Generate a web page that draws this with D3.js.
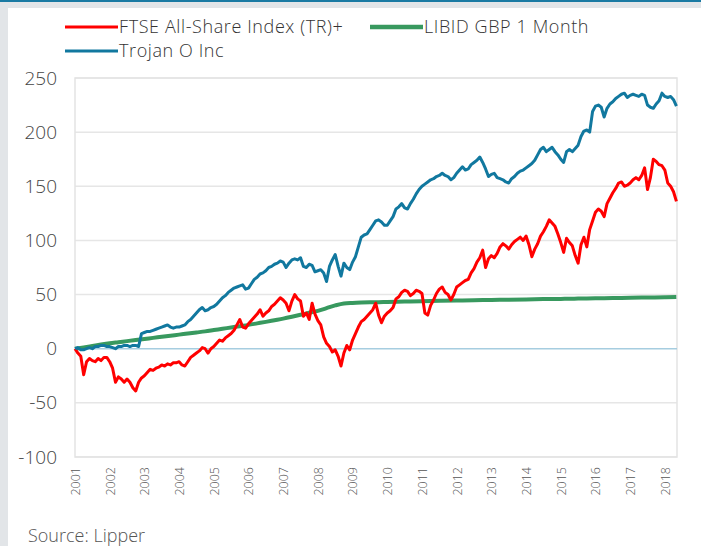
<!DOCTYPE html>
<html>
<head>
<meta charset="utf-8">
<script src="https://cdnjs.cloudflare.com/ajax/libs/d3/7.8.5/d3.min.js"></script>
<style>
    body { margin: 0; background: #e2e5e8; }
    svg { display: block; font-family: "Open Sans", Lato, sans-serif; font-weight: 300; }
</style>
</head>
<body>
<div id="container"></div>
<script>
// monthly values, first value is Jan 2001
var startYear = 2001;

var ftseValues = [
    0, -4, -7, -24, -12, -9, -11, -12, -9, -11, -8, -8,
    -12, -18, -31, -26, -28, -31, -28, -31, -36, -39, -31, -27,
    -25, -22, -19, -20, -18, -17, -15, -16, -14, -15, -13, -13,
    -12, -15, -16, -12, -8, -6, -4, -2, 1, 0, -4, 0,
    2, 5, 8, 7, 10, 12, 14, 17, 22, 27, 20, 19,
    23, 26, 29, 32, 36, 30, 33, 35, 39, 41, 44, 47,
    45, 42, 35, 44, 50, 46, 44, 30, 33, 27, 42, 32,
    26, 22, 11, 5, 2, -3, -1, -7, -16, -4, 3, -1,
    8, 14, 20, 25, 27, 30, 33, 36, 42, 31, 24, 30,
    33, 35, 38, 46, 48, 52, 54, 53, 49, 51, 54, 53,
    51, 33, 31, 40, 45, 51, 55, 57, 52, 50, 45, 50,
    57, 59, 61, 63, 64, 70, 74, 80, 84, 91, 75, 83,
    86, 84, 88, 94, 97, 95, 92, 96, 99, 101, 103, 100,
    104, 96, 85, 92, 97, 104, 108, 113, 119, 116, 113, 106,
    98, 89, 102, 98, 95, 86, 79, 96, 103, 94, 110, 118,
    126, 129, 127, 122, 134, 139, 144, 148, 153, 154, 150, 151,
    153, 156, 158, 156, 160, 167, 147, 158, 175, 173, 170, 169,
    165, 153, 150, 145, 136
];

var trojanValues = [
    0, 1, -1, -1, 0, 1, 0, 2, 2, 3, 3, 2,
    2, 1, 0, 2, 2, 3, 3, 2, 3, 3, 2, 14,
    15, 16, 16, 17, 18, 19, 20, 21, 22, 20, 19, 20,
    20, 21, 22, 25, 27, 30, 33, 36, 38, 35, 36, 38,
    39, 41, 44, 47, 49, 52, 54, 56, 57, 58, 59, 55,
    56, 60, 64, 66, 69, 70, 72, 75, 76, 78, 79, 81,
    80, 75, 79, 82, 83, 82, 84, 76, 75, 78, 77, 71,
    72, 73, 70, 62, 76, 82, 87, 76, 67, 79, 75, 73,
    80, 85, 94, 103, 105, 106, 110, 114, 118, 119, 117, 114,
    114, 118, 122, 129, 131, 134, 130, 129, 134, 138, 143, 147,
    150, 152, 154, 156, 157, 159, 160, 162, 160, 159, 156, 158,
    162, 165, 168, 165, 166, 170, 172, 174, 177, 172, 166, 159,
    161, 162, 158, 157, 156, 154, 153, 157, 159, 162, 164, 165,
    167, 169, 171, 174, 179, 184, 186, 182, 184, 186, 182, 179,
    175, 172, 182, 184, 182, 185, 188, 196, 201, 202, 200, 219,
    224, 225, 223, 214, 222, 226, 228, 231, 233, 235, 236, 232,
    234, 235, 234, 233, 235, 234, 225, 223, 222, 226, 229, 236,
    233, 232, 233, 230, 224
];

// [year, value] read every quarter
var libidPoints = [
    [2001, 0], [2001.25, 1.2], [2001.5, 2.5], [2001.75, 3.8],
    [2002, 5], [2002.25, 6], [2002.5, 7], [2002.75, 8],
    [2003, 9], [2003.25, 10], [2003.5, 11], [2003.75, 12],
    [2004, 13], [2004.25, 14], [2004.5, 15], [2004.75, 16],
    [2005, 17.2], [2005.25, 18.4], [2005.5, 19.6], [2005.75, 20.8],
    [2006, 22], [2006.25, 23.4], [2006.5, 24.8], [2006.75, 26.3],
    [2007, 27.8], [2007.25, 29.5], [2007.5, 31.3], [2007.75, 33.2],
    [2008, 35], [2008.25, 37.5], [2008.5, 40], [2008.75, 41.8],
    [2009, 42.3], [2009.25, 42.6], [2009.5, 42.8], [2009.75, 43],
    [2010, 43.2], [2010.5, 43.5], [2011, 43.8], [2011.5, 44.2],
    [2012, 44.5], [2012.5, 44.8], [2013, 45], [2013.5, 45.3],
    [2014, 45.5], [2014.5, 45.8], [2015, 46], [2015.5, 46.3],
    [2016, 46.5], [2016.5, 46.8], [2017, 47], [2017.5, 47.3],
    [2018, 47.5], [2018.33, 47.8]
];

var yTicks = [-100, -50, 0, 50, 100, 150, 200, 250];
var yearTicks = [2001, 2002, 2003, 2004, 2005, 2006, 2007, 2008, 2009,
    2010, 2011, 2012, 2013, 2014, 2015, 2016, 2017, 2018];

var legendData = [
    { text: 'FTSE All-Share Index (TR)+', color: '#ff0000', width: 3, x: 65, y: 27 },
    { text: 'LIBID GBP 1 Month', color: '#38995f', width: 4.5, x: 370, y: 27 },
    { text: 'Trojan O Inc', color: '#11789f', width: 3, x: 65, y: 51 }
];

function toPoints(values) {
    return values.map(function (v, i) {
        return [startYear + i / 12, v];
    });
}

var width = 701;
var height = 546;
var plot = { left: 75, right: 677, top: 78, bottom: 457 };

var svg = d3.select('#container').append('svg')
    .attr('width', width)
    .attr('height', height);

// page frame
svg.append('rect')
    .attr('x', 0).attr('y', 0).attr('width', width).attr('height', height)
    .attr('fill', '#e2e5e8');
svg.append('rect')
    .attr('x', 8).attr('y', 8).attr('width', width - 8).attr('height', height - 8)
    .attr('fill', '#ffffff');
svg.append('rect')
    .attr('x', 0).attr('y', 0).attr('width', width).attr('height', 2)
    .attr('fill', '#1a7aa3');

var x = d3.scaleLinear().domain([2001, 2018.35]).range([plot.left, plot.right]);
var y = d3.scaleLinear().domain([-100, 250]).range([plot.bottom, plot.top]);

// grid
svg.append('g').selectAll('line')
    .data(yTicks.filter(function (d) { return d !== 0; }))
    .enter().append('line')
    .attr('x1', plot.left).attr('x2', plot.right)
    .attr('y1', function (d) { return y(d); })
    .attr('y2', function (d) { return y(d); })
    .attr('stroke', '#e6e6e6')
    .attr('stroke-width', 1.5);

svg.append('rect')
    .attr('x', plot.left).attr('y', plot.top)
    .attr('width', plot.right - plot.left).attr('height', plot.bottom - plot.top)
    .attr('fill', 'none')
    .attr('stroke', '#e3e3e3')
    .attr('stroke-width', 1.5);

svg.append('line')
    .attr('x1', plot.left).attr('x2', plot.right)
    .attr('y1', y(0)).attr('y2', y(0))
    .attr('stroke', '#a6cde0')
    .attr('stroke-width', 1.5);

// axes
var yAxis = d3.axisLeft(y).tickValues(yTicks).tickSize(0).tickPadding(18)
    .tickFormat(function (d) { return String(d); });
var gy = svg.append('g')
    .attr('transform', 'translate(' + plot.left + ',0)')
    .call(yAxis);
gy.select('.domain').remove();
gy.selectAll('text')
    .attr('fill', '#444')
    .style('font-family', '"Open Sans", Lato, sans-serif')
    .style('font-weight', 300)
    .style('font-size', '19px');

var xAxis = d3.axisBottom(x).tickValues(yearTicks).tickFormat(function (d) { return String(d); }).tickSize(0);
var gx = svg.append('g')
    .attr('transform', 'translate(0,' + plot.bottom + ')')
    .call(xAxis);
gx.select('.domain').remove();
gx.selectAll('text')
    .attr('transform', 'rotate(-90)')
    .attr('x', -10)
    .attr('y', 0)
    .attr('dy', '0.35em')
    .attr('text-anchor', 'end')
    .attr('fill', '#555')
    .style('font-family', '"Open Sans", Lato, sans-serif')
    .style('font-weight', 300)
    .style('font-size', '12.5px');

// series
var line = d3.line()
    .x(function (d) { return x(d[0]); })
    .y(function (d) { return y(d[1]); });

svg.append('path')
    .datum(libidPoints)
    .attr('d', line.curve(d3.curveMonotoneX))
    .attr('fill', 'none')
    .attr('stroke', '#38995f')
    .attr('stroke-width', 4);

line.curve(d3.curveLinear);

svg.append('path')
    .datum(toPoints(ftseValues))
    .attr('d', line)
    .attr('fill', 'none')
    .attr('stroke', '#ff0000')
    .attr('stroke-width', 3)
    .attr('stroke-linejoin', 'round');

svg.append('path')
    .datum(toPoints(trojanValues))
    .attr('d', line)
    .attr('fill', 'none')
    .attr('stroke', '#11789f')
    .attr('stroke-width', 3)
    .attr('stroke-linejoin', 'round');

// legend
var legend = svg.append('g');
legend.selectAll('line')
    .data(legendData)
    .enter().append('line')
    .attr('x1', function (d) { return d.x; })
    .attr('x2', function (d) { return d.x + 53; })
    .attr('y1', function (d) { return d.y; })
    .attr('y2', function (d) { return d.y; })
    .attr('stroke', function (d) { return d.color; })
    .attr('stroke-width', function (d) { return d.width; });
legend.selectAll('text')
    .data(legendData)
    .enter().append('text')
    .attr('x', function (d) { return d.x + 54; })
    .attr('y', function (d) { return d.y; })
    .attr('dy', '0.35em')
    .attr('fill', '#333')
    .style('font-size', '18px')
    .style('letter-spacing', '0.6px')
    .text(function (d) { return d.text; });

svg.append('text')
    .attr('x', 28)
    .attr('y', 542)
    .attr('fill', '#555')
    .style('font-size', '18px')
    .text('Source: Lipper');
</script>
</body>
</html>
